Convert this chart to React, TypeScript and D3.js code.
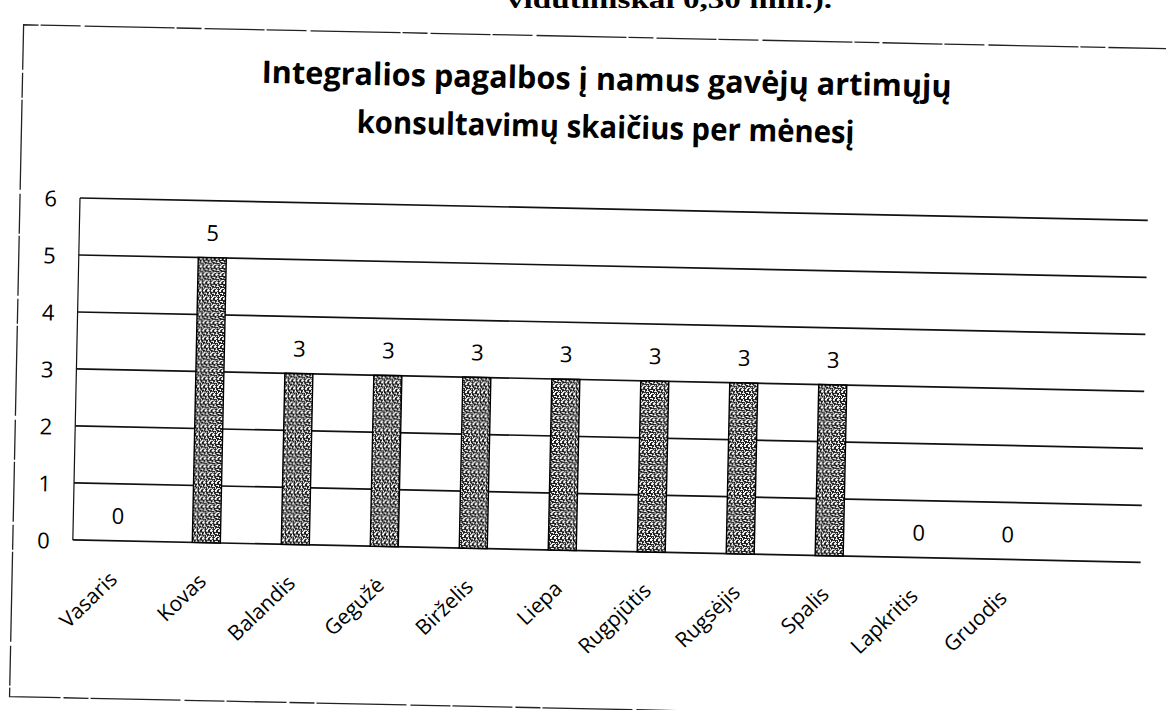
import React, { useEffect, useRef } from 'react'
import * as d3 from 'd3'

// months shown on the axis (Excel left an empty 12th slot at the end)
const months = ['Vasaris', 'Kovas', 'Balandis', 'Gegužė', 'Birželis', 'Liepa', 'Rugpjūtis', 'Rugsėjis', 'Spalis', 'Lapkritis', 'Gruodis', '']
const counts: (number | null)[] = [0, 5, 3, 3, 3, 3, 3, 3, 3, 0, 0, null]
const yTicks = [0, 1, 2, 3, 4, 5, 6]
const titleLines = ['Integralios pagalbos į namus gavėjų artimųjų', 'konsultavimų skaičius per mėnesį']
const pageFragment = 'vidutiniškai 0,30 min.).'

const W = 1166
const H = 710

const App = () => {
  const ref = useRef<SVGSVGElement>(null)

  useEffect(() => {
    const svg = d3.select(ref.current)
    svg.selectAll('*').remove()

    svg.append('rect').attr('width', W).attr('height', H).attr('fill', '#fff')

    // grainy fill of the scanned bars
    const defs = svg.append('defs')
    const pat = defs.append('pattern')
      .attr('id', 'grain')
      .attr('width', 8).attr('height', 8)
      .attr('patternUnits', 'userSpaceOnUse')
    pat.append('rect').attr('width', 8).attr('height', 8).attr('fill', '#1a1a1a')
    const holes = [
      [1, 0, 2, 1], [5, 0, 2, 1], [0, 2, 1, 2], [3, 1, 1, 2], [6, 2, 2, 1],
      [2, 3, 2, 1], [5, 4, 1, 2], [0, 5, 2, 1], [3, 5, 1, 1], [7, 5, 1, 2],
      [1, 7, 3, 1], [5, 7, 2, 1], [4, 3, 1, 1], [2, 6, 1, 1], [6, 6, 1, 1]
    ]
    holes.forEach(([hx, hy, hw, hh]) => {
      pat.append('rect').attr('x', hx).attr('y', hy).attr('width', hw).attr('height', hh).attr('fill', '#fff')
    })

    // bit of the document text above, cut off by the scan
    svg.append('text')
      .attr('x', 507).attr('y', 8)
      .attr('textLength', 325)
      .attr('lengthAdjust', 'spacingAndGlyphs')
      .attr('font-family', 'Liberation Serif, serif')
      .attr('font-weight', 'bold')
      .attr('font-size', 26)
      .attr('fill', '#000')
      .text(pageFragment)

    // whole scan is tilted a little
    const g = svg.append('g').attr('transform', 'rotate(1.2,80,198)')

    // outer frame
    g.append('path')
      .attr('d', 'M1165,26 H20 V698 H1165')
      .attr('fill', 'none')
      .attr('stroke', '#222')
      .attr('stroke-width', 1.3)
      .attr('stroke-dasharray', '60 3 25 2 90 4 40 2')

    // title
    titleLines.forEach((line, i) => {
      g.append('text')
        .attr('x', 604).attr('y', 79 + i * 48)
        .attr('text-anchor', 'middle')
        .attr('textLength', i === 0 ? 690 : 498)
        .attr('lengthAdjust', 'spacingAndGlyphs')
        .attr('font-family', 'Open Sans, sans-serif')
        .attr('font-weight', 'bold')
        .attr('font-size', 31)
        .attr('fill', '#000')
        .text(line)
    })

    const x = d3.scaleBand().domain(months).range([80, 1148]).paddingInner(0.685).paddingOuter(0.3425)
    const y = d3.scaleLinear().domain([0, 6]).range([540, 198])

    // grid
    g.append('g')
      .selectAll('line')
      .data(yTicks)
      .join('line')
        .attr('x1', 80).attr('x2', 1148)
        .attr('y1', d => y(d)).attr('y2', d => y(d))
        .attr('stroke', '#111')
        .attr('stroke-width', 1.7)

    g.append('line')
      .attr('x1', 80).attr('x2', 80)
      .attr('y1', y(0)).attr('y2', y(6))
      .attr('stroke', '#111')
      .attr('stroke-width', 1.2)

    // y labels
    g.append('g')
      .selectAll('text')
      .data(yTicks)
      .join('text')
        .attr('x', 57)
        .attr('y', d => y(d))
        .attr('text-anchor', 'end')
        .attr('dominant-baseline', 'central')
        .attr('font-family', 'Open Sans, sans-serif')
        .attr('font-size', 22)
        .attr('fill', '#000')
        .text(d => d)

    const rows = months.map((m, i) => ({ m, v: counts[i] })).filter(d => d.v !== null) as { m: string, v: number }[]

    // bars
    g.append('g')
      .selectAll('rect')
      .data(rows.filter(d => d.v > 0))
      .join('rect')
        .attr('x', d => x(d.m) as number)
        .attr('width', x.bandwidth())
        .attr('y', d => y(d.v))
        .attr('height', d => y(0) - y(d.v))
        .attr('fill', 'url(#grain)')
        .attr('stroke', '#000')
        .attr('stroke-width', 1.4)

    // value labels
    g.append('g')
      .selectAll('text')
      .data(rows)
      .join('text')
        .attr('x', d => (x(d.m) as number) + x.bandwidth() / 2)
        .attr('y', d => y(d.v) - 26)
        .attr('text-anchor', 'middle')
        .attr('dominant-baseline', 'central')
        .attr('font-family', 'Open Sans, sans-serif')
        .attr('font-size', 22)
        .attr('fill', '#000')
        .text(d => d.v)

    // month labels
    g.append('g')
      .selectAll('text')
      .data(months)
      .join('text')
        .attr('transform', d => `translate(${(x(d) as number) + x.bandwidth() / 2 + 2},${y(0) + 40}) rotate(-45)`)
        .attr('text-anchor', 'end')
        .attr('font-family', 'Open Sans, sans-serif')
        .attr('font-size', 21)
        .attr('fill', '#000')
        .text(d => d)
  }, [])

  return (
    <svg ref={ref} width={W} height={H} style={{ position: 'absolute', left: 0, top: 0 }}></svg>
  )
}

export default App
